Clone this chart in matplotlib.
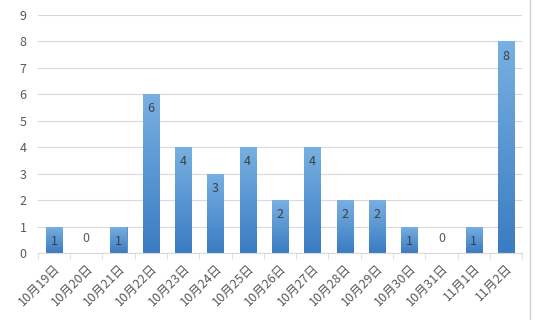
import numpy as np
import matplotlib
matplotlib.use('Agg')
import matplotlib.pyplot as plt
from matplotlib.colors import LinearSegmentedColormap

plt.rcParams['font.family'] = ['Noto Sans CJK SC', 'DejaVu Sans']

days = ['10月19日', '10月20日', '10月21日', '10月22日', '10月23日', '10月24日', '10月25日',
        '10月26日', '10月27日', '10月28日', '10月29日', '10月30日', '10月31日', '11月1日', '11月2日']
counts = [1, 0, 1, 6, 4, 3, 4, 2, 4, 2, 2, 1, 0, 1, 8]

fig = plt.figure(figsize=(5.4, 3.2), dpi=100)
ax = fig.add_axes([0.070, 0.209, 0.897, 0.744])

x = np.arange(len(days))
bars = ax.bar(x, counts, width=0.5, color='#5b9bd5', edgecolor='#4a86c4', linewidth=0.6, zorder=2)

# vertical gradient per bar, like the excel fill
cmap = LinearSegmentedColormap.from_list('g', ['#3a7cc2', '#78b0e2'])
grad = np.linspace(0, 1, 256).reshape(-1, 1)
for b in bars:
    h = b.get_height()
    if h <= 0:
        continue
    x0 = b.get_x()
    im = ax.imshow(grad, cmap=cmap, origin='lower', aspect='auto',
                   extent=[x0, x0 + b.get_width(), 0, h], zorder=2)
    im.set_clip_path(b)

for xi, v in zip(x, counts):
    if v == 0:
        ax.text(xi, 0.55, str(v), ha='center', va='center', fontsize=9, color='#595959', zorder=3)
    else:
        ax.text(xi, v - 0.55, str(v), ha='center', va='center', fontsize=9, color='#404040', zorder=3)

ax.set_xlim(-0.5, len(days) - 0.5)
ax.set_ylim(0, 9)
ax.set_yticks(range(10))
ax.grid(axis='y', color='#d9d9d9', linewidth=0.8, zorder=0)

ax.set_xticks(x)
ax.set_xticklabels(days, rotation=45, ha='right', rotation_mode='anchor', fontsize=9, color='#595959')
ax.set_xticks(np.arange(-0.5, len(days)), minor=True)
ax.tick_params(axis='x', which='major', length=0, pad=6)
ax.tick_params(axis='x', which='minor', length=4, color='#d9d9d9')
ax.tick_params(axis='y', length=0, labelsize=9, labelcolor='#595959', pad=8)

for s in ['top', 'right', 'left']:
    ax.spines[s].set_visible(False)
ax.spines['bottom'].set_color('#d9d9d9')

fig.add_artist(plt.Line2D([0.982, 0.982], [0, 1], color='#d0d0d0', linewidth=1))

fig.savefig('out.png', dpi=100)
